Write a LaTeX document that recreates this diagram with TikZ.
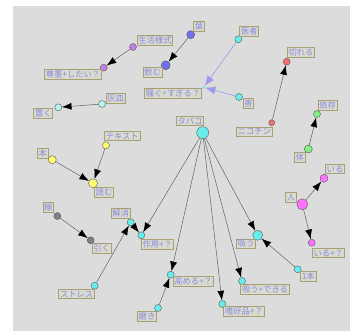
\documentclass[tikz,border=0pt]{standalone}
\usepackage{fontspec}
\newfontfamily\cjk{Noto Sans CJK JP}
\usetikzlibrary{arrows.meta}
\definecolor{bg}{HTML}{DCDCDC}
\definecolor{labborder}{HTML}{A8A070}
\definecolor{labfill}{HTML}{DADAD0}
\definecolor{labtext}{HTML}{8A8AE0}
\definecolor{cBlue}{HTML}{7070F0}
\definecolor{cPurple}{HTML}{C080E8}
\definecolor{cLcyan}{HTML}{B4F4F0}
\definecolor{cCyan}{HTML}{66EEEE}
\definecolor{cRed}{HTML}{F07070}
\definecolor{cGreen}{HTML}{80F080}
\definecolor{cYellow}{HTML}{FFFF70}
\definecolor{cMag}{HTML}{FF70FF}
\definecolor{cGray}{HTML}{808080}
\definecolor{lightedge}{HTML}{9A9AEE}
\tikzset{
  lab/.style={draw=labborder, fill=labfill, text=labtext, line width=0.9pt, inner sep=1.2pt,
    font=\cjk\fontsize{8.3}{9}\selectfont},
  nd/.style={circle, draw=black!65, line width=0.4pt, inner sep=0pt, minimum size=#1},
  edge/.style={draw=black!65, line width=0.45pt, -{Latex[length=9.5pt,width=7pt,color=black]}},
  ledge/.style={draw=lightedge, line width=0.6pt, -{Latex[length=10pt,width=8pt,color=lightedge]}},
}
\begin{document}
\begin{tikzpicture}[x=1pt,y=-1pt]
\useasboundingbox (0,0) rectangle (354,331);
\fill[bg] (13,6) rectangle (350,331);
% nodes
\node[nd=8pt, fill=cBlue] (ha) at (190.7,34.7) {};
\node[nd=9pt, fill=cBlue] (nomu) at (165.7,65.3) {};
\node[nd=7pt, fill=cPurple] (seikatsu) at (133,47) {};
\node[nd=7pt, fill=cPurple] (sonchou) at (103.7,67.7) {};
\node[nd=7pt, fill=cLcyan] (haizara) at (102,104) {};
\node[nd=7pt, fill=cLcyan] (oku) at (58.3,107.3) {};
\node[nd=7pt, fill=cCyan] (isha) at (238.3,39.3) {};
\node[circle, fill=cCyan, inner sep=0pt, minimum size=3pt] (sawagu) at (203.7,87.3) {};
\node[nd=7pt, fill=cCyan] (gai) at (239,97) {};
\node[nd=7pt, fill=cRed] (kireru) at (286.7,61.7) {};
\node[nd=6pt, fill=cRed] (nicotine) at (271.7,122.7) {};
\node[nd=7pt, fill=cGreen] (izon) at (317,114) {};
\node[nd=8pt, fill=cGreen] (karada) at (308.3,149) {};
\node[nd=12pt, fill=cCyan] (tabako) at (202.7,132.7) {};
\node[nd=7pt, fill=cYellow] (text) at (106,145.3) {};
\node[nd=8pt, fill=cYellow] (hon) at (52.3,159.7) {};
\node[nd=9pt, fill=cYellow] (yomu) at (93,183.3) {};
\node[nd=11pt, fill=cMag] (hito) at (302.3,204.3) {};
\node[nd=8pt, fill=cMag] (iru) at (324,178.3) {};
\node[nd=7pt, fill=cMag] (iruq) at (311.7,242.7) {};
\node[nd=7pt, fill=cGray] (sen) at (57.3,216) {};
\node[nd=7pt, fill=cGray] (hiku) at (90.7,240.3) {};
\node[nd=7pt, fill=cCyan] (kaishou) at (130.7,222.3) {};
\node[nd=7pt, fill=cCyan] (sayou) at (141.3,235.3) {};
\node[nd=7pt, fill=cCyan] (stress) at (94.7,285.7) {};
\node[nd=7pt, fill=cCyan] (migaki) at (158,308) {};
\node[nd=7pt, fill=cCyan] (takameru) at (170.7,274.7) {};
\node[nd=7pt, fill=cCyan] (shikou) at (222.3,304) {};
\node[nd=7pt, fill=cCyan] (suudekiru) at (242,281) {};
\node[nd=10pt, fill=cCyan] (suu) at (257.7,235.3) {};
\node[nd=7pt, fill=cCyan] (ippon) at (297.7,269.3) {};
% labels
\node[lab] (l-ha) at (199,26) {葉};
\node[lab] (l-nomu) at (152.7,72.7) {飲む};
\node[lab] (l-seikatsu) at (155,40.3) {生活様式};
\node[lab] (l-sonchou) at (73,74) {尊重+したい？};
\node[lab] (l-haizara) at (115.7,98.3) {灰皿};
\node[lab] (l-oku) at (43.3,113.3) {置く};
\node[lab] (l-isha) at (249.3,31) {医者};
\node[lab] (l-sawagu) at (173,93) {騒ぐ+すぎる？};
\node[lab] (l-gai) at (248.3,103.3) {害};
\node[lab] (l-kireru) at (301,52.3) {切れる};
\node[lab] (l-nicotine) at (254.3,131.7) {ニコチン};
\node[lab] (l-izon) at (327.7,105.3) {依存};
\node[lab] (l-karada) at (300,157.7) {体};
\node[lab] (l-tabako) at (190,121) {タバコ};
\node[lab] (l-text) at (122.3,136) {テキスト};
\node[lab] (l-hon) at (42.7,153) {本};
\node[lab] (l-yomu) at (104,192) {読む};
\node[lab] (l-hito) at (291,197.3) {人};
\node[lab] (l-iru) at (335,169.3) {いる};
\node[lab] (l-iruq) at (328.3,253.3) {いる+？};
\node[lab] (l-sen) at (48.3,207.7) {線};
\node[lab] (l-hiku) at (101.7,248.3) {引く};
\node[lab] (l-kaishou) at (120.7,213.3) {解消};
\node[lab] (l-sayou) at (157.3,244) {作用+？};
\node[lab] (l-stress) at (76.7,294) {ストレス};
\node[lab] (l-migaki) at (147,316) {磨き};
\node[lab] (l-takameru) at (193.3,281) {高める+？};
\node[lab] (l-shikou) at (244,311.7) {嗜好品+？};
\node[lab] (l-suudekiru) at (265,289.7) {吸う+できる};
\node[lab] (l-suu) at (246,244) {吸う};
\node[lab] (l-ippon) at (308.3,276.7) {1本};
% edges
\draw[edge] (ha) -- (nomu);
\draw[edge] (seikatsu) -- (sonchou);
\draw[edge] (haizara) -- (oku);
\draw[ledge] (isha) -- (sawagu);
\draw[ledge] (gai) -- (sawagu);
\draw[edge] (nicotine) -- (kireru);
\draw[edge] (karada) -- (izon);
\draw[edge] (text) -- (yomu);
\draw[edge] (hon) -- (yomu);
\draw[edge] (hito) -- (iru);
\draw[edge] (hito) -- (iruq);
\draw[edge] (sen) -- (hiku);
\draw[edge] (stress) -- (kaishou);
\draw[edge] (kaishou) -- (sayou);
\draw[edge] (tabako) -- (sayou);
\draw[edge] (tabako) -- (takameru);
\draw[edge] (tabako) -- (shikou);
\draw[edge] (tabako) -- (suudekiru);
\draw[edge] (tabako) -- (suu);
\draw[edge] (ippon) -- (suu);
\draw[edge] (migaki) -- (takameru);
\end{tikzpicture}
\end{document}
